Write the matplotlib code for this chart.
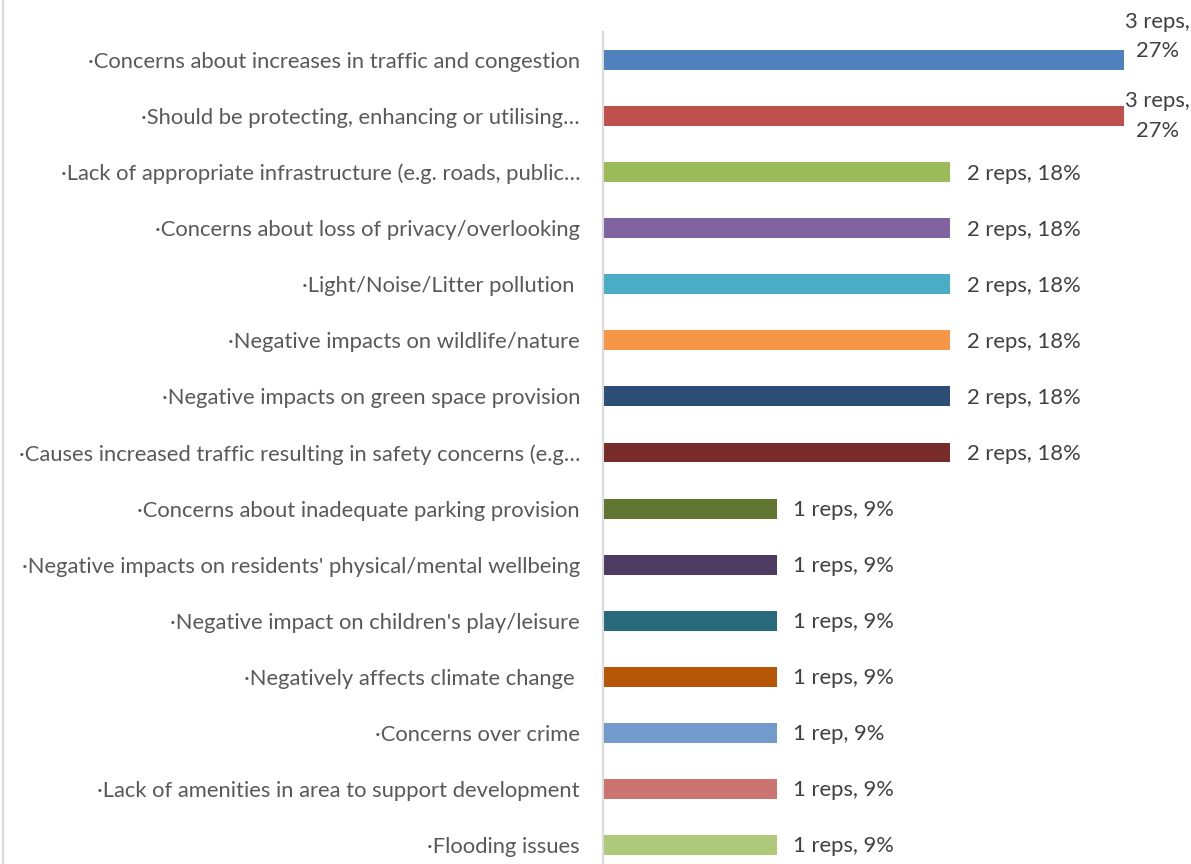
import matplotlib
matplotlib.use("Agg")
import matplotlib.pyplot as plt
from matplotlib.lines import Line2D

plt.rcParams['font.family'] = ['Lato', 'DejaVu Sans']

# responses, top to bottom as in the chart
labels = [
    "\u00b7Concerns about increases in traffic and congestion",
    "\u00b7Should be protecting, enhancing or utilising\u2026",
    "\u00b7Lack of appropriate infrastructure (e.g. roads, public\u2026",
    "\u00b7Concerns about loss of privacy/overlooking",
    "\u00b7Light/Noise/Litter pollution ",
    "\u00b7Negative impacts on wildlife/nature",
    "\u00b7Negative impacts on green space provision",
    "\u00b7Causes increased traffic resulting in safety concerns (e.g\u2026",
    "\u00b7Concerns about inadequate parking provision",
    "\u00b7Negative impacts on residents' physical/mental wellbeing",
    "\u00b7Negative impact on children's play/leisure",
    "\u00b7Negatively affects climate change ",
    "\u00b7Concerns over crime",
    "\u00b7Lack of amenities in area to support development",
    "\u00b7Flooding issues",
]
reps = [3, 3, 2, 2, 2, 2, 2, 2, 1, 1, 1, 1, 1, 1, 1]
pct = [27, 27, 18, 18, 18, 18, 18, 18, 9, 9, 9, 9, 9, 9, 9]
unit = ["reps"] * 12 + ["rep"] + ["reps"] * 2

colors = ['#4F81BD', '#C0504D', '#9BBB59', '#8064A2', '#4BACC6', '#F79646',
          '#2C4D75', '#772C2A', '#5F7530', '#4D3B62', '#276A7C', '#B65708',
          '#729ACA', '#CD7371', '#AFC97A']

W, H = 1191, 864
fs = 15.8
fig = plt.figure(figsize=(W / 100, H / 100), dpi=100)
ax = fig.add_axes([603 / W, -9 / H, 1 - 603 / W, (873 - 32) / H])

ypos = list(range(len(labels)))
ax.barh(ypos, reps, height=0.355, color=colors)
ax.set_ylim(len(labels) - 0.5, -0.5)
ax.set_xlim(0, (W - 603) / 173.7)

ax.set_yticks(ypos)
ax.set_yticklabels(labels, fontsize=fs, color='#595959')
ax.tick_params(axis='y', length=0, pad=16.5)
ax.set_xticks([])
for s in ['top', 'right', 'bottom']:
    ax.spines[s].set_visible(False)
ax.spines['left'].set_color('#D9D9D9')
ax.spines['left'].set_linewidth(1.5)

top = max(reps)
for i, (r, p, u) in enumerate(zip(reps, pct, unit)):
    if r == top:
        dy = 17 if i == 0 else 0
        ax.annotate(f"{r} {u},\n{p}%", (r, i), xytext=(24, dy), textcoords='offset points',
                    ha='center', va='center', fontsize=fs, color='#404040', linespacing=1.6)
    else:
        ax.annotate(f"{r} {u}, {p}%", (r, i), xytext=(12, -1), textcoords='offset points',
                    ha='left', va='center', fontsize=fs, color='#404040')

fig.add_artist(Line2D([3 / W, 3 / W], [0, 1], color='#D9D9D9', lw=1.5))

fig.savefig("out.png", dpi=100)
